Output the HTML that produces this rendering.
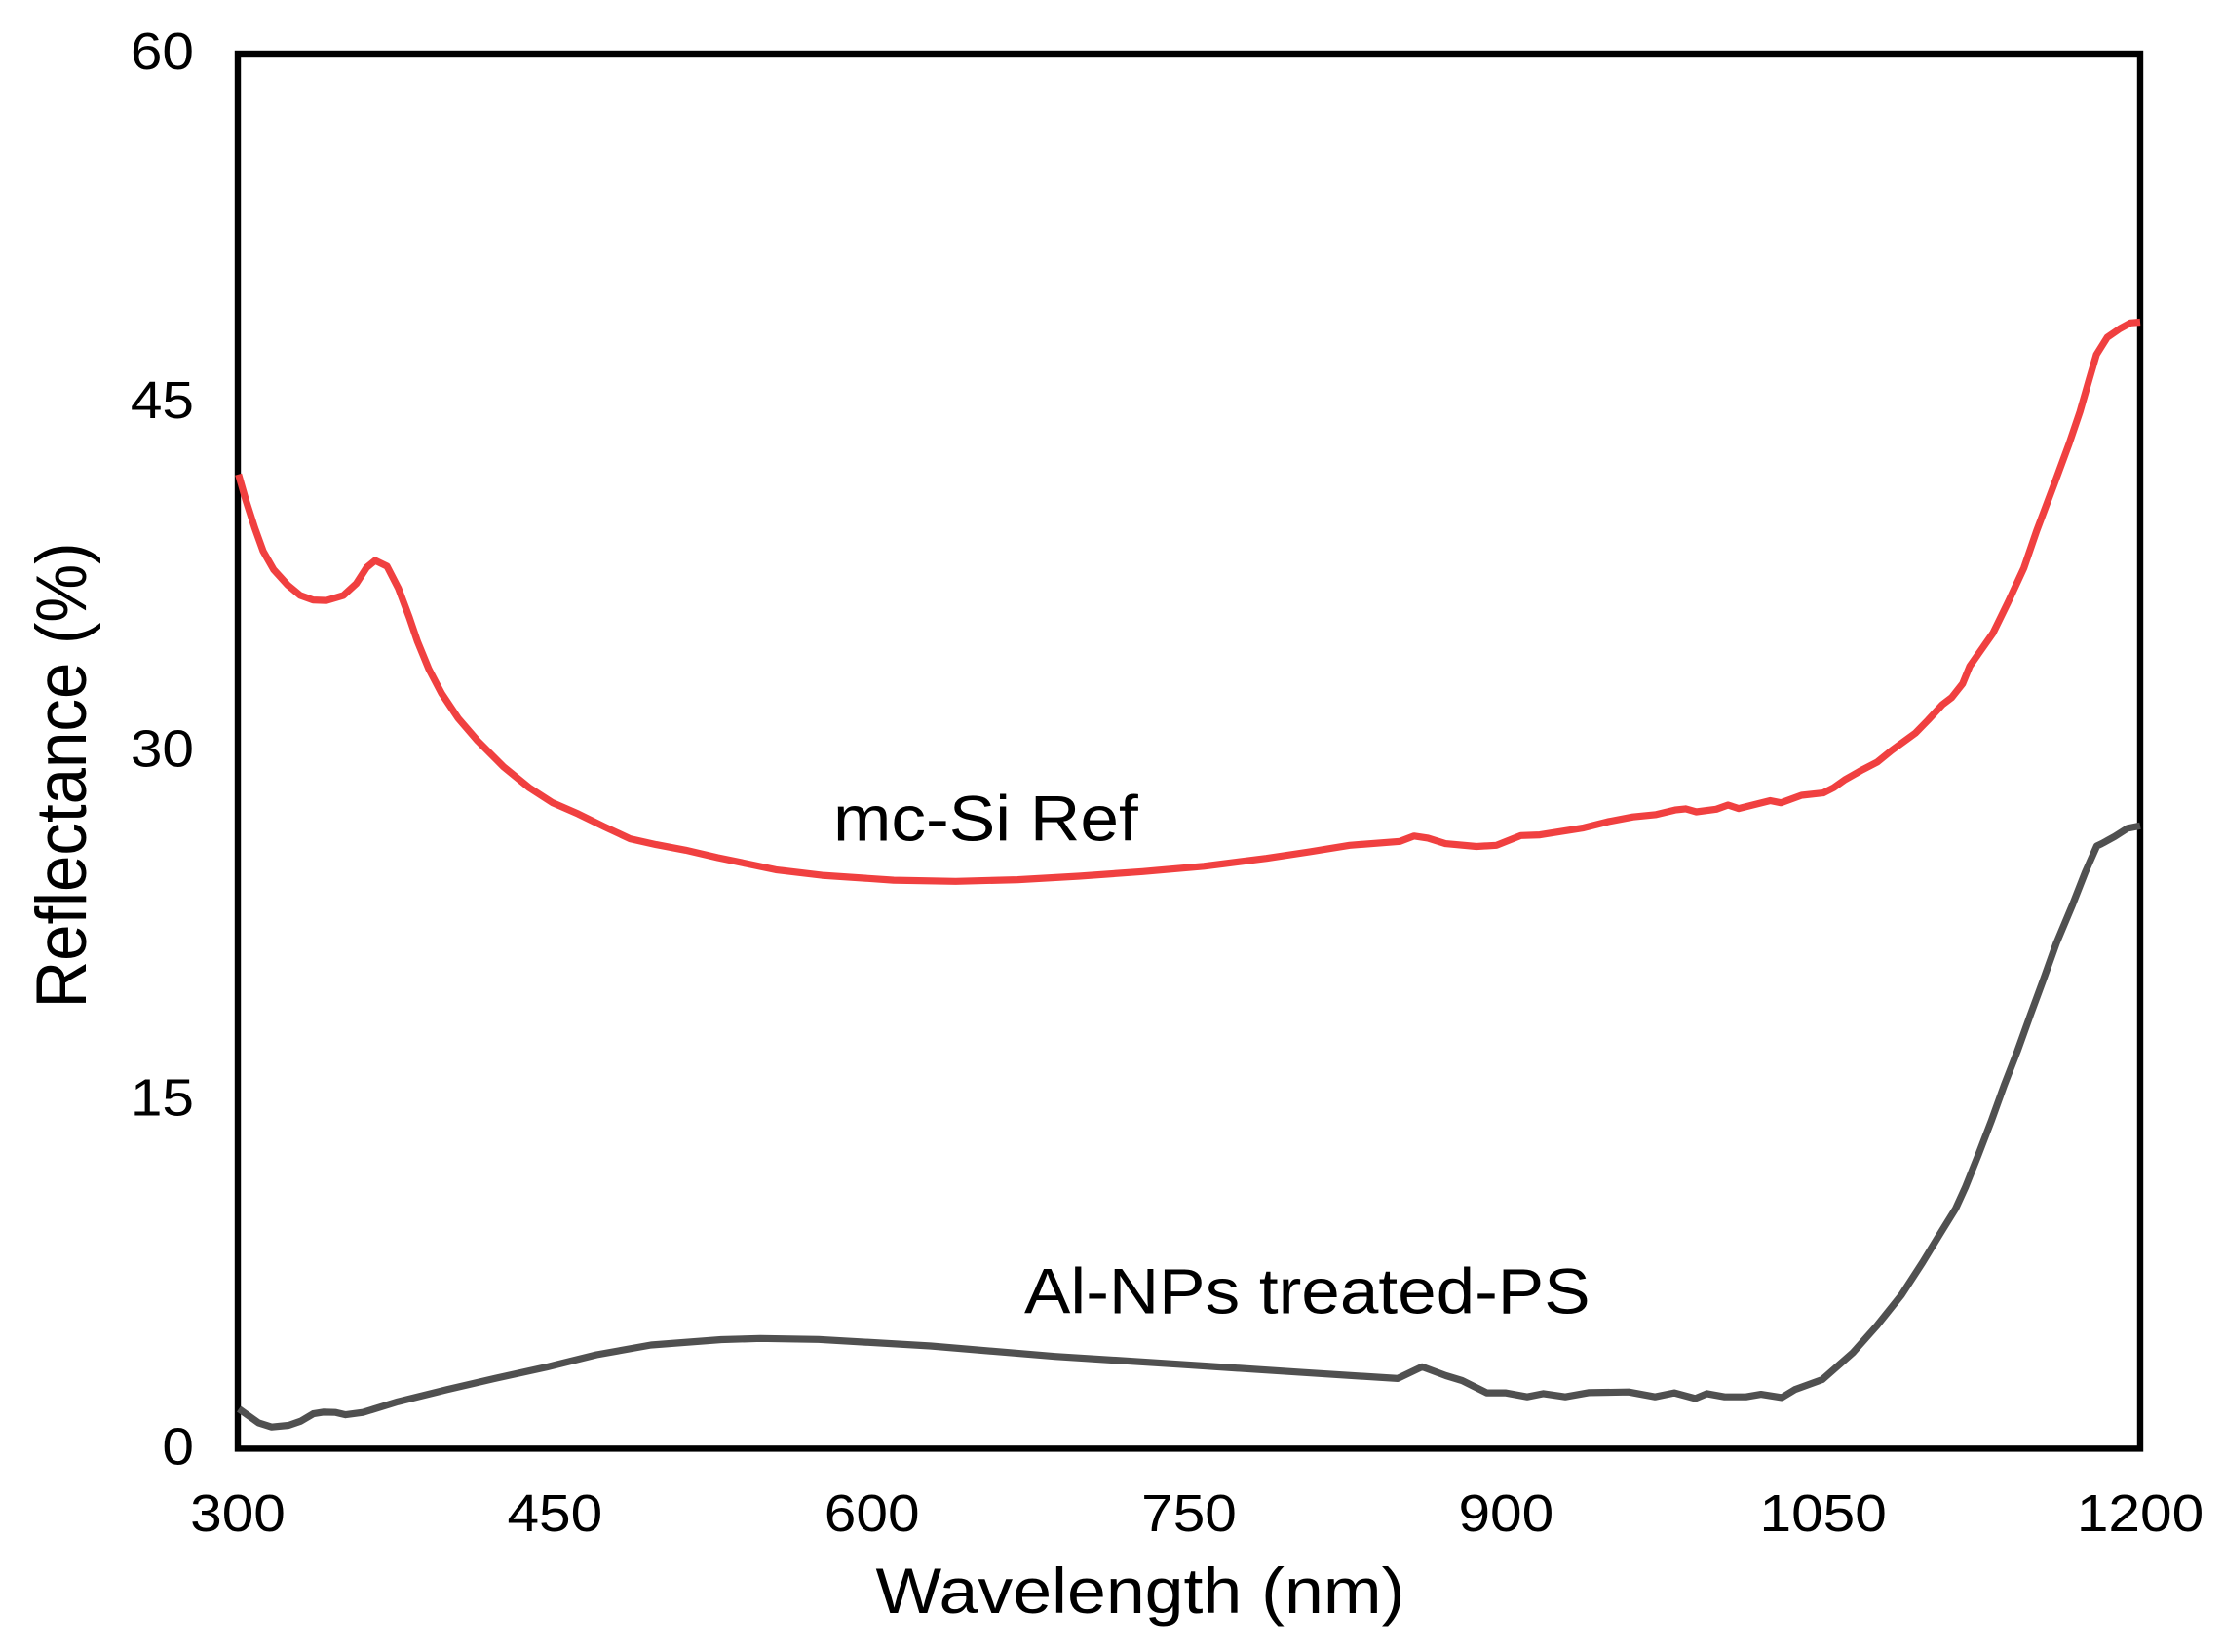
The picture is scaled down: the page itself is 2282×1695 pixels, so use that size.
<!DOCTYPE html>
<html lang="en">
<head>
<meta charset="utf-8">
<title>Reflectance vs Wavelength</title>
<style>
html,body{margin:0;padding:0;background:#fff;}
svg{display:block;}
text{font-family:"Liberation Sans",Arial,sans-serif;fill:#000;}
</style>
</head>
<body>
<svg id="chart" xmlns="http://www.w3.org/2000/svg" width="2282" height="1695" viewBox="0 0 2282 1695">
  <rect x="0" y="0" width="2282" height="1695" fill="#ffffff"/>
  <rect x="244" y="55" width="1952" height="1431.4" fill="none" stroke="#000" stroke-width="6.4"/>
  <g id="x-ticks"></g>
  <g id="y-ticks"></g>
  <text transform="translate(1170,1655) scale(1.086,1)" font-size="66" text-anchor="middle">Wavelength (nm)</text>
  <text transform="translate(88,795.5) scale(1.086,1) rotate(-90)" font-size="67.2" text-anchor="middle">Reflectance (%)</text>
  <text transform="translate(855,862.5) scale(1.08,1)" font-size="66">mc-Si Ref</text>
  <text transform="translate(1051,1347.5) scale(1.077,1)" font-size="66">Al-NPs treated-PS</text>
  <g id="series"></g>
</svg>
<script>
const xTickLabels = [300, 450, 600, 750, 900, 1050, 1200];
const yTickLabels = [0, 15, 30, 45, 60];

const refWavelengths = [300.3,303.8,308,312,317,323.5,329.5,335.6,342,350,356,361,365,370.6,376,381.1,385,390.4,396.5,404.2,413.4,425.7,438,448.7,461,473.3,485.6,497.9,511.8,527.1,541.8,554.5,576.4,610.3,639.6,669,698,728,757,786.6,807,826,849.8,856.5,863,871.3,886,895.4,907,916,936.7,948,960,971,980,985,990,999.5,1005,1010,1025,1030,1039.8,1050,1055,1060.3,1068.6,1075.6,1082.4,1093.7,1099.6,1106.4,1110.8,1116,1119.4,1130.4,1137.5,1145,1151,1159.5,1166.4,1171.5,1176,1179.3,1184.4,1190.4,1195.4,1200];
const refReflectance = [41.9,40.8,39.6,38.6,37.8,37.15,36.7,36.5,36.48,36.7,37.2,37.9,38.2,37.95,37.0,35.76,34.71,33.52,32.47,31.42,30.45,29.33,28.42,27.79,27.3,26.75,26.23,25.98,25.74,25.42,25.14,24.9,24.66,24.45,24.4,24.47,24.62,24.82,25.05,25.39,25.67,25.95,26.12,26.35,26.26,26.02,25.9,25.95,26.37,26.4,26.7,26.96,27.17,27.27,27.47,27.52,27.39,27.5,27.68,27.53,27.87,27.78,28.1,28.2,28.43,28.77,29.2,29.53,30.03,30.78,31.33,32.0,32.3,32.9,33.66,35.08,36.4,37.88,39.47,41.53,43.23,44.6,46.02,47.05,47.8,48.17,48.42,48.45];

const psWavelengths = [300.5,309.8,316,324,329.8,335.7,340.4,346.3,351,359.2,375.7,399,422.6,446,469.7,495.5,528.7,547.2,574.8,627.8,686.6,745.4,804,848.7,860.3,871.6,879.2,890.9,899.6,910,917.7,928,939,958,970.5,979.6,989.5,995,1003.4,1013.5,1020.6,1030.4,1036.6,1049.6,1064,1075.5,1087,1097,1106.5,1112.7,1117.3,1123.4,1129.6,1135.7,1141.9,1148,1154.2,1160.3,1168,1174,1179.5,1181.8,1187.9,1194,1200];
const psReflectance = [1.71,1.11,0.93,1.0,1.18,1.5,1.57,1.56,1.46,1.56,2.02,2.54,3.04,3.51,4.04,4.46,4.69,4.74,4.7,4.42,3.97,3.63,3.28,3.02,3.52,3.14,2.93,2.4,2.4,2.23,2.37,2.23,2.41,2.44,2.23,2.4,2.16,2.37,2.23,2.23,2.34,2.2,2.54,2.97,4.12,5.3,6.6,8.0,9.42,10.33,11.24,12.64,14.1,15.64,17.1,18.64,20.18,21.73,23.4,24.79,25.92,26.02,26.33,26.68,26.79];

const SVG_NS = 'http://www.w3.org/2000/svg';
const xScale = nm => 244 + (nm - 300) * 1952 / 900;
const yScale = v => 1486.4 - v * 1431.4 / 60;

const xGroup = document.getElementById('x-ticks');
for (const t of xTickLabels) {
  const el = document.createElementNS(SVG_NS, 'text');
  
  
  el.setAttribute('transform', 'translate(' + xScale(t) + ',1571) scale(1.085,1)');
  el.setAttribute('font-size', '54');
  el.setAttribute('text-anchor', 'middle');
  el.textContent = t;
  xGroup.appendChild(el);
}

const yGroup = document.getElementById('y-ticks');
for (const t of yTickLabels) {
  const el = document.createElementNS(SVG_NS, 'text');
  
  
  el.setAttribute('transform', 'translate(199,' + (yScale(t) + 16) + ') scale(1.085,1)');
  el.setAttribute('font-size', '54');
  el.setAttribute('text-anchor', 'end');
  el.textContent = t;
  yGroup.appendChild(el);
}

function linePoints(xs, ys) {
  return xs.map((x, i) => xScale(x).toFixed(1) + ',' + yScale(ys[i]).toFixed(1)).join(' ');
}

const seriesGroup = document.getElementById('series');

const refLine = document.createElementNS(SVG_NS, 'polyline');


refLine.setAttribute('points', linePoints(refWavelengths, refReflectance));
refLine.setAttribute('fill', 'none');
refLine.setAttribute('stroke', '#f04040');
refLine.setAttribute('stroke-width', '7.2');
refLine.setAttribute('stroke-linejoin', 'round');
seriesGroup.appendChild(refLine);

const psLine = document.createElementNS(SVG_NS, 'polyline');


psLine.setAttribute('points', linePoints(psWavelengths, psReflectance));
psLine.setAttribute('fill', 'none');
psLine.setAttribute('stroke', '#505050');
psLine.setAttribute('stroke-width', '7.2');
psLine.setAttribute('stroke-linejoin', 'round');
seriesGroup.appendChild(psLine);
</script>
</body>
</html>
